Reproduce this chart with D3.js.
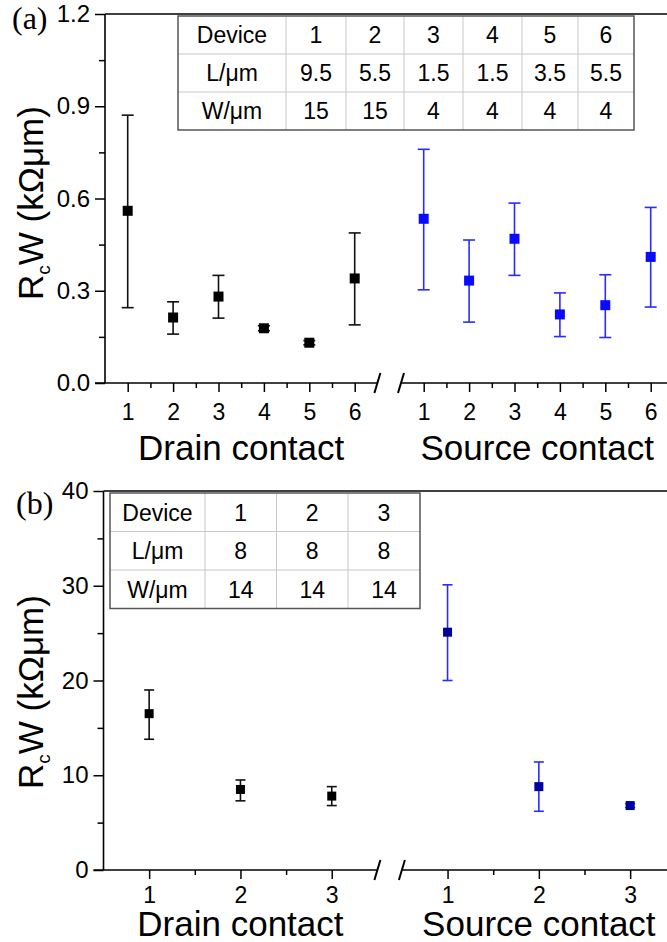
<!doctype html>
<html>
<head>
<script src="https://cdnjs.cloudflare.com/ajax/libs/d3/7.8.5/d3.min.js"></script>
<style>
body { margin: 0; background: #fff; }
text { font-family: "Liberation Sans", Arial, sans-serif; fill: #000; }
</style>
</head>
<body>
<svg id="chart" width="667" height="942"></svg>
<script>
// ---- panel (a) data ----
var devicesA = [1, 2, 3, 4, 5, 6];
var drainA   = [0.560, 0.213, 0.281, 0.178, 0.131, 0.340];
var drainALo = [0.245, 0.159, 0.211, 0.170, 0.124, 0.189];
var drainAHi = [0.871, 0.264, 0.350, 0.186, 0.138, 0.488];
var sourceA   = [0.534, 0.333, 0.469, 0.223, 0.253, 0.410];
var sourceALo = [0.303, 0.198, 0.350, 0.151, 0.148, 0.247];
var sourceAHi = [0.760, 0.465, 0.585, 0.293, 0.352, 0.571];
var yTicksA = [0, 0.3, 0.6, 0.9, 1.2];
var yMinorA = [0.15, 0.45, 0.75, 1.05];
var tableA = [
  ["Device", "1", "2", "3", "4", "5", "6"],
  ["L/\u03bcm", "9.5", "5.5", "1.5", "1.5", "3.5", "5.5"],
  ["W/\u03bcm", "15", "15", "4", "4", "4", "4"]
];

// ---- panel (b) data ----
var devicesB = [1, 2, 3];
var drainB   = [16.5, 8.5, 7.8];
var drainBLo = [13.8, 7.3, 6.8];
var drainBHi = [19.0, 9.5, 8.8];
var sourceB   = [25.1, 8.8, 6.8];
var sourceBLo = [20.0, 6.2, 6.6];
var sourceBHi = [30.1, 11.4, 7.0];
var yTicksB = [0, 10, 20, 30, 40];
var yMinorB = [5, 15, 25, 35];
var tableB = [
  ["Device", "1", "2", "3"],
  ["L/\u03bcm", "8", "8", "8"],
  ["W/\u03bcm", "14", "14", "14"]
];

var svg = d3.select("#chart");

function drawPanel(p) {
  var g = svg.append("g");
  var n = p.devices.length;
  var y = d3.scaleLinear().domain(p.yDomain).range([p.bottom, p.top]);
  var xd = d3.scaleLinear().domain([0.5, n + 0.5]).range([p.left, p.left + n * p.unit]);
  var srcStart = p.left + n * p.unit + p.gap;
  var xs = d3.scaleLinear().domain([0.5, n + 1]).range([srcStart, srcStart + (n + 0.5) * p.unit]);

  // frame: left axis, top line
  g.append("line").attr("x1", p.left).attr("x2", p.left).attr("y1", p.top).attr("y2", p.bottom)
    .attr("stroke", "#000").attr("stroke-width", 1.6);
  g.append("line").attr("x1", p.left).attr("x2", 700).attr("y1", p.top).attr("y2", p.top)
    .attr("stroke", "#000").attr("stroke-width", 1.6);

  // y axis
  var ya = g.append("g").attr("transform", "translate(" + p.left + ",0)")
    .call(d3.axisLeft(y).tickValues(p.yTicks).tickSize(10).tickPadding(5).tickFormat(p.yFormat));
  ya.select(".domain").remove();
  ya.selectAll("line").attr("stroke-width", 1.5);
  ya.selectAll("text").style("font-size", "24px");
  var ym = g.append("g").attr("transform", "translate(" + p.left + ",0)")
    .call(d3.axisLeft(y).tickValues(p.yMinor).tickSize(6).tickFormat(""));
  ym.select(".domain").remove();
  ym.selectAll("line").attr("stroke-width", 1.5);

  // x axis segments with break
  var segs = [
    { s: xd, x1: p.left - 10, x2: xd(n + 0.5), minor: d3.range(1.5, n, 1) },
    { s: xs, x1: srcStart, x2: 700, minor: d3.range(1.5, n + 1, 1) }
  ];
  segs.forEach(function (seg) {
    g.append("line").attr("x1", seg.x1).attr("x2", seg.x2).attr("y1", p.bottom).attr("y2", p.bottom)
      .attr("stroke", "#000").attr("stroke-width", 1.6);
    var xa = g.append("g").attr("transform", "translate(0," + p.bottom + ")")
      .call(d3.axisBottom(seg.s).tickValues(p.devices).tickSize(9).tickPadding(p.xPad).tickFormat(d3.format("d")));
    xa.select(".domain").remove();
    xa.selectAll("line").attr("stroke-width", 1.5);
    xa.selectAll("text").style("font-size", "23px");
    var xm = g.append("g").attr("transform", "translate(0," + p.bottom + ")")
      .call(d3.axisBottom(seg.s).tickValues(seg.minor).tickSize(5).tickFormat(""));
    xm.select(".domain").remove();
    xm.selectAll("line").attr("stroke-width", 1.5);
  });
  [xd(n + 0.5), srcStart].forEach(function (bx) {
    g.append("line").attr("x1", bx - 3).attr("x2", bx + 3)
      .attr("y1", p.bottom + 10).attr("y2", p.bottom - 10)
      .attr("stroke", "#000").attr("stroke-width", 2);
  });

  // group labels
  g.append("text").attr("x", xd((n + 1) / 2)).attr("y", p.groupY).attr("text-anchor", "middle")
    .style("font-size", "35px").text("Drain contact");
  g.append("text").attr("x", xs((n + 1) / 2)).attr("y", p.groupY).attr("text-anchor", "middle")
    .style("font-size", "35px").text("Source contact");

  // y label
  var yl = g.append("text").attr("transform", "translate(43," + p.yLabelY + ") rotate(-90)")
    .attr("text-anchor", "middle").style("font-size", "35px");
  yl.append("tspan").text("R");
  yl.append("tspan").attr("dy", 7).style("font-size", "19px").text("c");
  yl.append("tspan").attr("dy", -7).text("W (k\u03a9\u03bcm)");

  // panel tag
  g.append("text").attr("x", p.tagX).attr("y", p.tagY)
    .style("font-family", "'Liberation Serif', 'Times New Roman', serif").style("font-size", "32px")
    .text(p.tag);

  // error bars + markers
  function series(scale, vals, lo, hi, barColor, markColor) {
    var sg = g.append("g");
    p.devices.forEach(function (d, i) {
      var cx = scale(d);
      sg.append("line").attr("x1", cx).attr("x2", cx).attr("y1", y(lo[i])).attr("y2", y(hi[i]))
        .attr("stroke", barColor).attr("stroke-width", 1.6);
      [lo[i], hi[i]].forEach(function (v) {
        sg.append("line").attr("x1", cx - p.cap / 2).attr("x2", cx + p.cap / 2)
          .attr("y1", y(v)).attr("y2", y(v)).attr("stroke", barColor).attr("stroke-width", 1.6);
      });
      sg.append("rect").attr("x", cx - p.mark / 2).attr("y", y(vals[i]) - p.mark / 2)
        .attr("width", p.mark).attr("height", p.mark).attr("fill", markColor);
    });
  }
  series(xd, p.drain, p.drainLo, p.drainHi, "#111", "#000");
  series(xs, p.source, p.sourceLo, p.sourceHi, "#2b2bff", p.srcMark);

  // inset table
  var tg = g.append("g");
  var colX = [p.tableX];
  p.colW.forEach(function (w) { colX.push(colX[colX.length - 1] + w); });
  var tw = colX[colX.length - 1] - p.tableX;
  var th = p.rowH * p.table.length;
  tg.append("rect").attr("x", p.tableX).attr("y", p.tableY).attr("width", tw).attr("height", th)
    .attr("fill", "#fff");
  for (var c = 1; c < p.colW.length; c++) {
    tg.append("line").attr("x1", colX[c]).attr("x2", colX[c]).attr("y1", p.tableY).attr("y2", p.tableY + th)
      .attr("stroke", "#c8c8c8").attr("stroke-width", 1);
  }
  for (var r = 1; r < p.table.length; r++) {
    tg.append("line").attr("x1", p.tableX).attr("x2", p.tableX + tw)
      .attr("y1", p.tableY + r * p.rowH).attr("y2", p.tableY + r * p.rowH)
      .attr("stroke", "#c8c8c8").attr("stroke-width", 1);
  }
  tg.append("rect").attr("x", p.tableX).attr("y", p.tableY).attr("width", tw).attr("height", th)
    .attr("fill", "none").attr("stroke", "#555").attr("stroke-width", 1.5);
  p.table.forEach(function (row, ri) {
    row.forEach(function (cell, ci) {
      tg.append("text").attr("x", (colX[ci] + colX[ci + 1]) / 2)
        .attr("y", p.tableY + ri * p.rowH + p.rowH / 2).attr("dy", "0.36em")
        .attr("text-anchor", "middle").style("font-size", "23px").text(cell);
    });
  });
}

drawPanel({
  devices: devicesA, drain: drainA, drainLo: drainALo, drainHi: drainAHi,
  source: sourceA, sourceLo: sourceALo, sourceHi: sourceAHi,
  yDomain: [0, 1.2], yTicks: yTicksA, yMinor: yMinorA, yFormat: d3.format(".1f"),
  left: 105, top: 14, bottom: 383, unit: 45.4, gap: 23.6, xPad: 12,
  groupY: 460, yLabelY: 203, tag: "(a)", tagX: 12, tagY: 29,
  cap: 12, mark: 10, srcMark: "#0a0aff",
  table: tableA, tableX: 178, tableY: 16, rowH: 38, colW: [108, 60, 58, 59, 59, 56, 56]
});

drawPanel({
  devices: devicesB, drain: drainB, drainLo: drainBLo, drainHi: drainBHi,
  source: sourceB, sourceLo: sourceBLo, sourceHi: sourceBHi,
  yDomain: [0, 40], yTicks: yTicksB, yMinor: yMinorB, yFormat: d3.format("d"),
  left: 103.5, top: 491, bottom: 870, unit: 91.3, gap: 24.5, xPad: 8,
  groupY: 936, yLabelY: 692, tag: "(b)", tagX: 16, tagY: 514,
  cap: 10, mark: 9, srcMark: "#00009c",
  table: tableB, tableX: 110, tableY: 493, rowH: 38.5, colW: [95, 71.5, 71.5, 72]
});
</script>
</body>
</html>
